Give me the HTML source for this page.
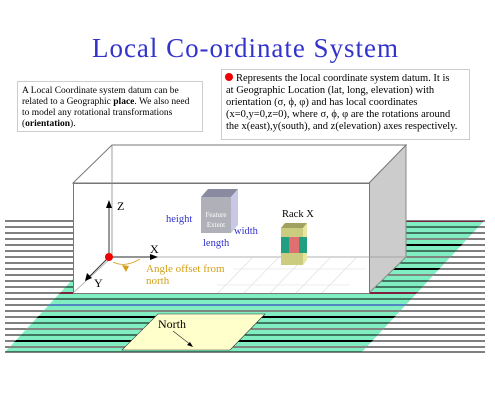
<!DOCTYPE html>
<html><head><meta charset="utf-8"><style>
body{margin:0;background:#fff;}
svg{display:block;font-family:"Liberation Serif",serif;}
</style></head><body>
<svg width="495" height="420" viewBox="0 0 495 420">
<defs>
<clipPath id="gclip"><polygon points="5,352 362,352 484,221 127,221"/></clipPath>
</defs>
<text x="245" y="57" text-anchor="middle" font-size="27" fill="#3333cc" textLength="306">Local Co-ordinate System</text>

<g>
<rect x="17.5" y="81.5" width="185" height="50" fill="#fff" stroke="#ccc"/>
<text font-size="9.5" fill="#000">
<tspan x="22" y="93">A Local Coordinate system datum can be</tspan>
<tspan x="22" y="104">related to a Geographic <tspan font-weight="bold">place</tspan>. We also need</tspan>
<tspan x="22" y="115">to model any rotational transformations</tspan>
<tspan x="22" y="126">(<tspan font-weight="bold">orientation</tspan>).</tspan>
</text>
</g>
<g>
<rect x="221.5" y="69.5" width="248" height="70" fill="#fff" stroke="#ccc"/>
<circle cx="229" cy="77" r="4" fill="#e00"/>
<text font-size="10.5" fill="#000">
<tspan x="236" y="81">Represents the local coordinate system datum. It is</tspan>
<tspan x="226" y="93">at Geographic Location (lat, long, elevation) with</tspan>
<tspan x="226" y="105">orientation (σ, ϕ, φ) and has local coordinates</tspan>
<tspan x="226" y="117">(x=0,y=0,z=0), where σ, ϕ, φ are the rotations around</tspan>
<tspan x="226" y="129">the x(east),y(south), and z(elevation) axes respectively.</tspan>
</text>
</g>

<g id="floor"></g>

<g>
<polygon points="158,314 265,314 230,350 122,350" fill="#ffffcc" stroke="#333" stroke-width="0.6"/>
<text x="158" y="328" font-size="12">North</text>
<line x1="173" y1="331" x2="191" y2="345" stroke="#333" stroke-width="0.7"/>
<polygon points="193,347 187,345 190,342" fill="#000"/>
</g>

<g>
<polygon points="369,183 406,145 406,257 369,293" fill="#cccccc" stroke="#888"/>
<rect x="73.5" y="183.5" width="296" height="110" fill="#fff" stroke="#777"/>
<polygon points="73,183 112,145 406,145 369,183" fill="#fff" stroke="#777"/>
<line x1="112" y1="145" x2="112" y2="257" stroke="#888" stroke-width="0.8"/>
<line x1="112" y1="257" x2="406" y2="257" stroke="#999" stroke-width="0.8"/>
<line x1="73" y1="293" x2="112" y2="257" stroke="#999" stroke-width="0.6"/>
<g stroke="#ddd" stroke-width="0.6">
<line x1="233" y1="269" x2="366" y2="269"/><line x1="217" y1="285" x2="350" y2="285"/>
<line x1="252" y1="258" x2="218" y2="293"/><line x1="278" y1="258" x2="244" y2="293"/>
<line x1="304" y1="258" x2="270" y2="293"/><line x1="330" y1="258" x2="296" y2="293"/>
<line x1="356" y1="258" x2="322" y2="293"/>
</g>
</g>

<g>
<line x1="109" y1="257" x2="109" y2="205" stroke="#333"/>
<polygon points="109,200 106,208 112,208" fill="#000"/>
<text x="117" y="210" font-size="12">Z</text>
<line x1="109" y1="257" x2="153" y2="257" stroke="#555" stroke-width="1.2"/>
<polygon points="158,257 150,254 150,260" fill="#000"/>
<text x="150" y="253" font-size="12">X</text>
<line x1="109" y1="257" x2="89" y2="277" stroke="#333"/>
<polygon points="85,281 87,273 92,278" fill="#000"/>
<text x="94" y="287" font-size="12">Y</text>
<path d="M113,262 Q125,268 140,259" fill="none" stroke="#d4a017" stroke-width="0.8"/>
<polygon points="126,272 122,265 129,266" fill="#d4a017"/>
<circle cx="109" cy="257" r="4" fill="#e00"/>
<text font-size="11" fill="#d4a017"><tspan x="146" y="272">Angle offset from</tspan><tspan x="146" y="284">north</tspan></text>
</g>

<g>
<polygon points="201,197 208,189 238,189 231,197" fill="#8a8aa0"/>
<polygon points="231,197 238,189 238,225 231,233" fill="#c8c8e6"/>
<rect x="201" y="197" width="30" height="36" fill="#b0b0b8"/>
<text x="216" y="217" font-size="7" text-anchor="middle" fill="#fff">Feature</text>
<text x="216" y="227" font-size="7" text-anchor="middle" fill="#fff">Extent</text>
<text x="166" y="222" font-size="10.5" fill="#3333cc">height</text>
<text x="234" y="234" font-size="10.5" fill="#3333cc">width</text>
<text x="203" y="246" font-size="10.5" fill="#3333cc">length</text>
</g>

<g>
<text x="282" y="217" font-size="10.5">Rack X</text>
<polygon points="281,228 285,223 307,223 303,228" fill="#a0a060"/>
<polygon points="303,228 307,223 307,260 303,265" fill="#e6e6a0"/>
<rect x="281" y="228" width="22" height="37" fill="#cccc80"/>
<rect x="281" y="237" width="26" height="16" fill="#20a080"/>
<rect x="289" y="237" width="10" height="16" fill="#e07070"/>
</g>
<script>
var floorLines=[221,227,233,239,245,251,257,263,269,275,281,287,293,299,305,311,317,323,329,335,341,347,352];
var ns="http://www.w3.org/2000/svg";
var f=document.getElementById('floor');
floorLines.forEach(function(y){
 var l=document.createElementNS(ns,'line');
 
 
 l.setAttribute('x1',5);l.setAttribute('x2',485);l.setAttribute('y1',y);l.setAttribute('y2',y);
 l.setAttribute('stroke','#000');l.setAttribute('stroke-width','1');
 f.appendChild(l);
});
var g=document.createElementNS(ns,'g');


g.setAttribute('clip-path','url(#gclip)');
var bg=document.createElementNS(ns,'rect');
bg.setAttribute('x',0);bg.setAttribute('y',215);bg.setAttribute('width',495);bg.setAttribute('height',140);bg.setAttribute('fill','#80eec0');
g.appendChild(bg);
floorLines.forEach(function(y,i){
 var l=document.createElementNS(ns,'line');
 
 
 l.setAttribute('x1',0);l.setAttribute('x2',495);l.setAttribute('y1',y);l.setAttribute('y2',y);
 l.setAttribute('stroke',y==305?'#2020c0':(i%3==0?'#802040':'#000'));l.setAttribute('stroke-width',i%4==0?'2':'1');
 g.appendChild(l);
});
f.appendChild(g);
</script>
</svg>
</body></html>
